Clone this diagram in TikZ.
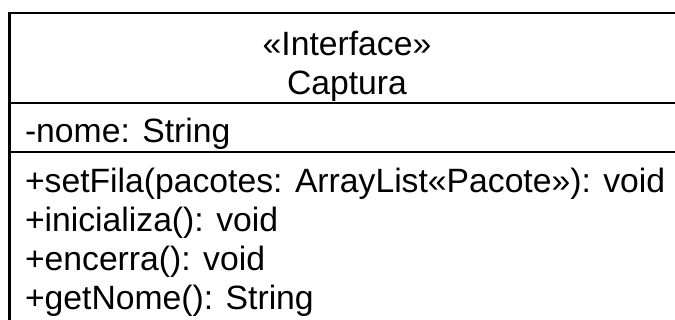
\documentclass[tikz,border=0pt]{standalone}
\usepackage{fontspec}
\setmainfont{Liberation Sans}
\tikzset{
  umlline/.style={line width=2.6pt, draw=black},
  umltext/.style={inner sep=0pt, outer sep=0pt, font=\fontsize{33.7}{39}\selectfont},
  member/.style={umltext, anchor=base west},
  title/.style={umltext, anchor=base},
}
\begin{document}
\begin{tikzpicture}[x=1pt, y=-1pt]
  \useasboundingbox (0,0) rectangle (675,320);
  \clip (0,0) rectangle (675,320);
  \fill[white] (0,0) rectangle (675,320);
  % class box (continues past the right and bottom edges)
  \draw[umlline] (9.5,330) -- (9.5,13) -- (700,13);
  \draw[umlline] (9.5,103) -- (700,103);
  \draw[umlline] (9.5,152) -- (700,152);
  % name compartment
  \node[title] (stereo) at (347,55.5) {«Interface»};
  \node[title] (name) at (347,94.5) {Captura};
  % attribute compartment
  \node[member] (attr) at (25,142.5) {-nome: String};
  % operation compartment
  \node[member] (op1) at (25,193) {+setFila(pacotes: ArrayList«Pacote»): void};
  \node[member] (op2) at (25,231.8) {+inicializa(): void};
  \node[member] (op3) at (25,270.6) {+encerra(): void};
  \node[member] (op4) at (25,309.4) {+getNome(): String};
\end{tikzpicture}
\end{document}
